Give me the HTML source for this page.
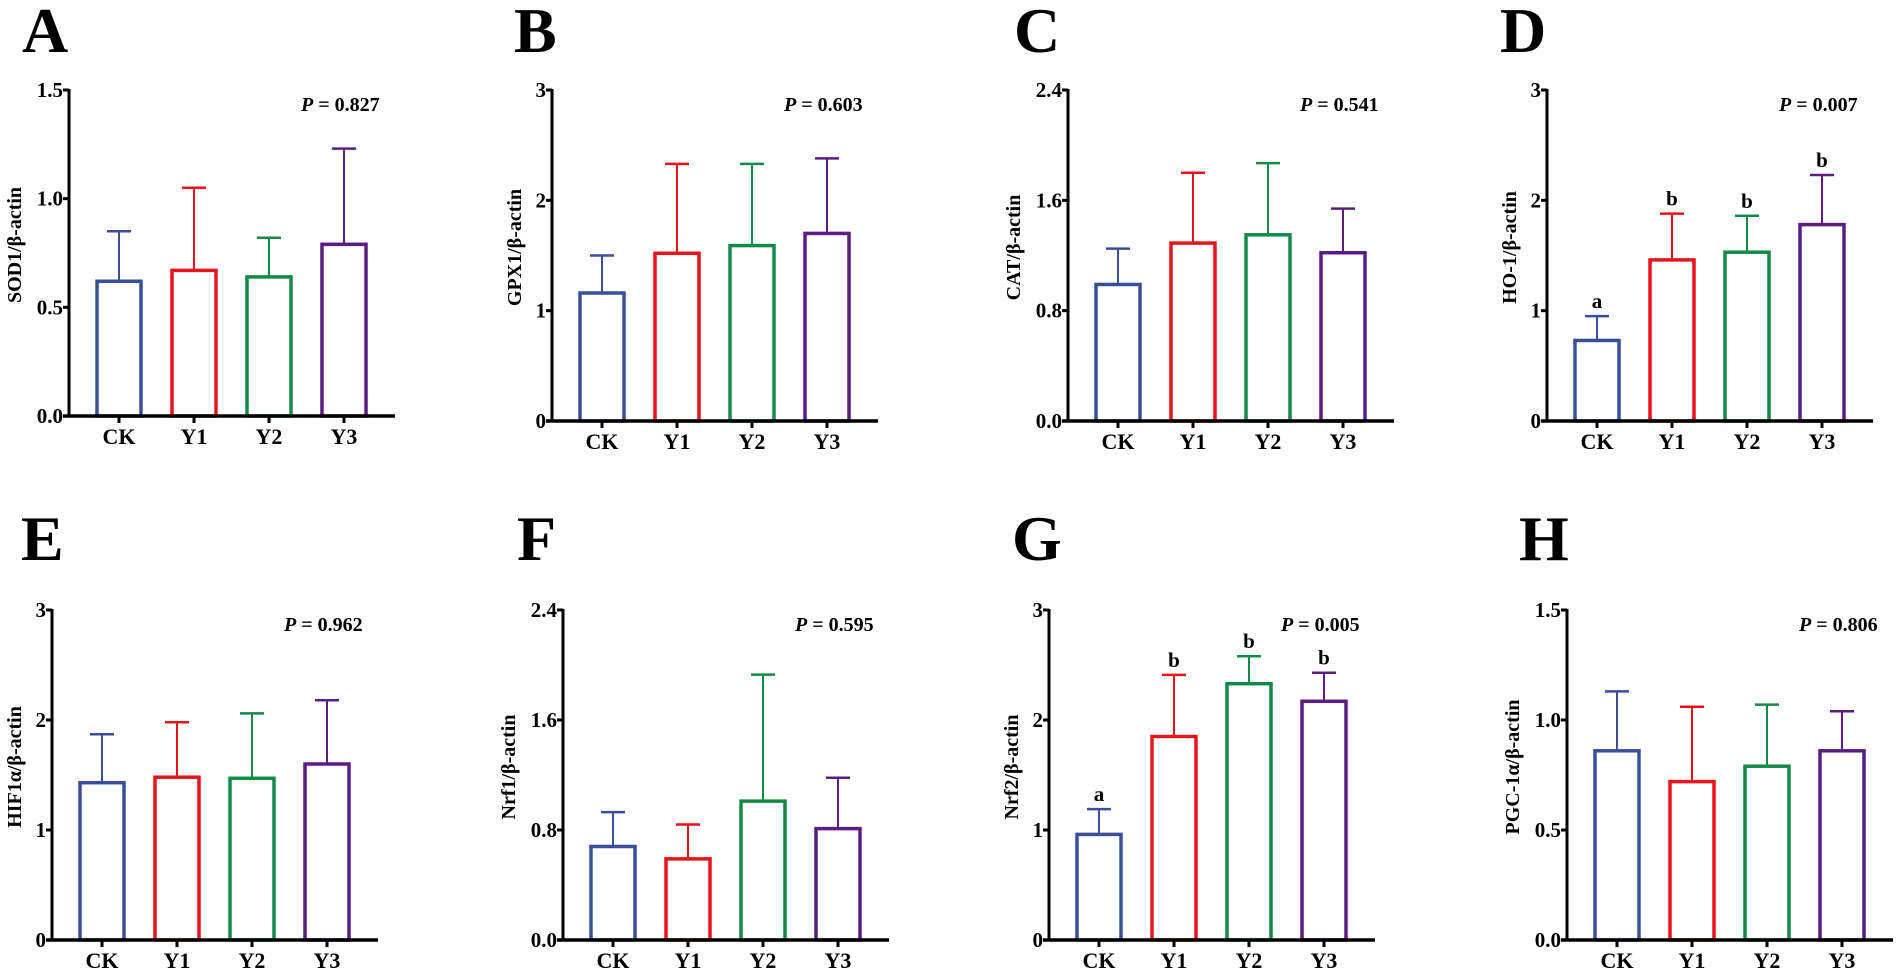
<!DOCTYPE html>
<html><head><meta charset="utf-8"><style>
html,body{margin:0;padding:0;background:#fff;}
svg{display:block;font-family:"Liberation Serif",serif;font-weight:bold;}
</style></head><body>
<svg id="fig" width="1902" height="975" viewBox="0 0 1902 975" xmlns="http://www.w3.org/2000/svg"></svg>
<script>
const categories = ["CK","Y1","Y2","Y3"];
const colors = ["#3a4f9a","#e8141b","#138a48","#5c1d82"];
const panelLetters = ["A","B","C","D","E","F","G","H"];
const yTitles = ["SOD1/β-actin","GPX1/β-actin","CAT/β-actin","HO-1/β-actin","HIF1α/β-actin","Nrf1/β-actin","Nrf2/β-actin","PGC-1α/β-actin"];
const pValues = ["0.827","0.603","0.541","0.007","0.962","0.595","0.005","0.806"];
const yMax = [1.5,3,2.4,3,3,2.4,3,1.5];
const tickLabelsA = ["0.0","0.5","1.0","1.5"];
const tickLabelsB = ["0","1","2","3"];
const tickLabelsC = ["0.0","0.8","1.6","2.4"];
const tickLabelsD = ["0","1","2","3"];
const tickLabelsE = ["0","1","2","3"];
const tickLabelsF = ["0.0","0.8","1.6","2.4"];
const tickLabelsG = ["0","1","2","3"];
const tickLabelsH = ["0.0","0.5","1.0","1.5"];
const meansA = [0.62,0.67,0.64,0.79];  const errA = [0.85,1.05,0.82,1.23];
const meansB = [1.16,1.52,1.59,1.70];  const errB = [1.50,2.33,2.33,2.38];
const meansC = [0.99,1.29,1.35,1.22];  const errC = [1.25,1.80,1.87,1.54];
const meansD = [0.73,1.46,1.53,1.78];  const errD = [0.95,1.88,1.86,2.23];
const meansE = [1.43,1.48,1.47,1.60];  const errE = [1.87,1.98,2.06,2.18];
const meansF = [0.68,0.59,1.01,0.81];  const errF = [0.93,0.84,1.93,1.18];
const meansG = [0.96,1.85,2.33,2.17];  const errG = [1.19,2.41,2.58,2.43];
const meansH = [0.86,0.72,0.79,0.86];  const errH = [1.13,1.06,1.07,1.04];
const sigLettersD = ["a","b","b","b"];
const sigLettersG = ["a","b","b","b"];

const ticks = [tickLabelsA,tickLabelsB,tickLabelsC,tickLabelsD,tickLabelsE,tickLabelsF,tickLabelsG,tickLabelsH];
const means = [meansA,meansB,meansC,meansD,meansE,meansF,meansG,meansH];
const errs = [errA,errB,errC,errD,errE,errF,errG,errH];
const sigs = [null,null,null,sigLettersD,null,null,sigLettersG,null];

// layout (not data)
const axX = [69,552,1068,1547,52,563,1049,1567];
const letterX = [22,514,1014,1500,21,517,1012,1519];
const topY = [90,90,90,90,610,610,610,610];
const botY = [416,421,421,421,940,940,940,940];

const NS="http://www.w3.org/2000/svg";
const svg=document.getElementById('fig');
function mk(tag,attrs,parent){const e=document.createElementNS(NS,tag);for(const k in attrs)e.setAttribute(k,attrs[k]);(parent||svg).appendChild(e);return e;}

for(let p=0;p<8;p++){
  const g=mk('g',{});
  
  
  const ax=axX[p], t=topY[p], b=botY[p], ymax=yMax[p];
  const y=v=>b-(v/ymax)*(b-t);
  const xc=i=>ax+50+i*75;
  const wide=ticks[p][ticks[p].length-1].length>1;
  const L=mk('text',{x:letterX[p],y:(p<4?52:560),'font-size':64,fill:'#000'},g);
  L.textContent=panelLetters[p];
  
  
  const tx=ax-(wide?54:37), ty=(t+b)/2-8;
  const T=mk('text',{x:tx,y:ty,'font-size':20,'text-anchor':'middle','dominant-baseline':'central',transform:`rotate(-90 ${tx} ${ty})`},g);
  T.textContent=yTitles[p];
  
  
  for(let i=0;i<4;i++){
    const top=y(means[p][i]), et=y(errs[p][i]), cx=xc(i);
    const ln=mk('line',{x1:cx,x2:cx,y1:top,y2:et,stroke:colors[i],'stroke-width':2},g);
    
    
    const cap=mk('line',{x1:cx-12,x2:cx+12,y1:et,y2:et,stroke:colors[i],'stroke-width':2.5},g);
    
    
    const r=mk('rect',{x:cx-22,y:top,width:44,height:b-top,fill:'#fff',stroke:colors[i],'stroke-width':3.5},g);
    
    
    if(sigs[p]){
      const s=mk('text',{x:cx,y:et-8,'font-size':21,'text-anchor':'middle'},g);
      s.textContent=sigs[p][i];
      
      
    }
    const tk=mk('line',{x1:cx,x2:cx,y1:b,y2:b+7,stroke:'#000','stroke-width':3},g);
    
    
    const cl=mk('text',{x:cx,y:b+28,'font-size':22,'text-anchor':'middle'},g);
    cl.textContent=categories[i];
    
    
  }
  const ya=mk('line',{x1:ax,x2:ax,y1:t-1,y2:b+1.5,stroke:'#000','stroke-width':3},g);
  
  
  const xa=mk('line',{x1:ax-6,x2:ax+326,y1:b,y2:b,stroke:'#000','stroke-width':3.5},g);
  
  
  const n=ticks[p].length;
  for(let k=0;k<n;k++){
    const v=ymax*k/(n-1), yy=y(v);
    const tl=mk('line',{x1:ax-6,x2:ax,y1:yy,y2:yy,stroke:'#000','stroke-width':3},g);
    
    
    const tt=mk('text',{x:ax-6,y:yy+7,'font-size':21,'text-anchor':'end'},g);
    tt.textContent=ticks[p][k];
    
    
  }
  const pv=mk('text',{x:ax+232,y:t+21,'font-size':20},g);
  
  
  const it=mk('tspan',{'font-style':'italic'},pv); it.textContent='P';
  const rest=mk('tspan',{},pv); rest.textContent=' = '+pValues[p];
}
</script>
</body></html>
